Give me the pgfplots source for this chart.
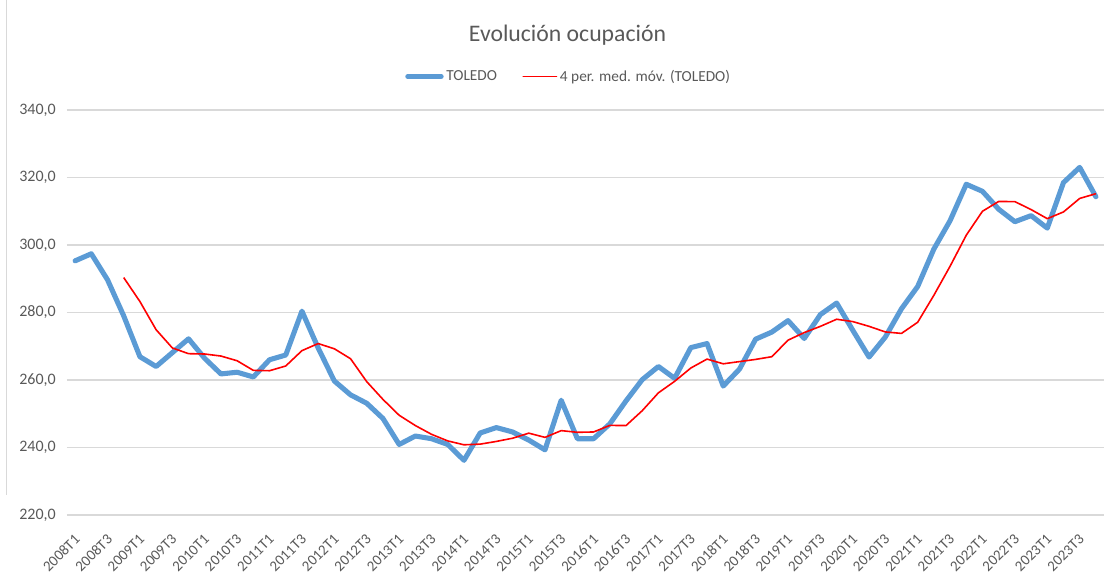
\documentclass[border=0pt]{standalone}
\usepackage{pgfplots}
\pgfplotsset{compat=1.18}
\usepackage{pgfplotstable}
\usepackage{fontspec}
\setmainfont{Carlito}
\definecolor{txtgray}{HTML}{595959}
\definecolor{gridgray}{HTML}{D9D9D9}
\definecolor{toledoblue}{HTML}{5B9BD5}
\pgfplotstableread{
i v ma
0 295.3 nan
1 297.4 nan
2 289.7 nan
3 279.0 290.35
4 266.9 283.25
5 264.0 274.9
6 268.1 269.5
7 272.2 267.8
8 266.4 267.7
9 261.8 267.1
10 262.3 265.7
11 260.9 262.85
12 266.0 262.75
13 267.4 264.15
14 280.4 268.7
15 269.5 270.8
16 259.7 269.25
17 255.6 266.3
18 253.1 259.5
19 248.6 254.25
20 240.9 249.55
21 243.4 246.5
22 242.6 243.9
23 240.9 241.95
24 236.2 240.8
25 244.3 241.0
26 245.9 241.8
27 244.6 242.75
28 242.2 244.25
29 239.3 243.0
30 254.0 245.0
31 242.6 244.5
32 242.6 244.6
33 247.0 246.55
34 253.8 246.5
35 260.1 250.9
36 264.0 256.2
37 260.5 259.6
38 269.6 263.55
39 270.8 266.2
40 258.2 264.8
41 263.2 265.45
42 272.1 266.1
43 274.2 266.9
44 277.6 271.8
45 272.3 274.05
46 279.4 275.9
47 282.8 278.0
48 274.7 277.3
49 266.8 275.9
50 272.7 274.25
51 281.1 273.8
52 287.7 277.1
53 298.8 285.1
54 307.2 293.7
55 318.0 302.9
56 315.9 310.0
57 310.6 312.9
58 306.9 312.85
59 308.7 310.5
60 305.0 307.8
61 318.5 309.8
62 323.0 313.8
63 314.3 315.2
}\datatable
\begin{document}
\begin{tikzpicture}
\useasboundingbox (-50.25pt,-47.25pt) rectangle (788.25pt,386.25pt);
\draw[gridgray, line width=0.75pt] (-45pt,15pt) -- (-45pt,386.25pt);
\begin{axis}[
  at={(0,0)}, anchor=south west,
  scale only axis, width=777.75pt, height=303.75pt,
  xmin=-0.5, xmax=63.5, ymin=220, ymax=340,
  ytick={220,240,...,340},
  xtick={0,2,...,62},
  xticklabels={2008T1,2008T3,2009T1,2009T3,2010T1,2010T3,2011T1,2011T3,2012T1,2012T3,2013T1,2013T3,2014T1,2014T3,2015T1,2015T3,2016T1,2016T3,2017T1,2017T3,2018T1,2018T3,2019T1,2019T3,2020T1,2020T3,2021T1,2021T3,2022T1,2022T3,2023T1,2023T3},
  axis line style={draw=none},
  major tick length=0pt,
  ymajorgrids, grid style={gridgray, line width=1pt},
  yticklabel style={font=\fontsize{12}{14}\selectfont, text=txtgray, anchor=east, inner sep=0pt, xshift=-8.25pt},
  xticklabel style={font=\fontsize{11.2}{13}\selectfont, text=txtgray, rotate=45, anchor=north east, inner sep=0pt, xshift=-10.4pt, yshift=-8.7pt},
  /pgf/number format/.cd, fixed, fixed zerofill, precision=1, use comma, assume math mode=true,
  /pgfplots/.cd,
  legend columns=2,
  legend style={draw=none, fill=none, at={(axis description cs:0.4841,1.0827)}, anchor=center,
    font=\fontsize{11.5}{13}\selectfont, text=txtgray,
    /tikz/every even column/.append style={column sep=17pt}},
  legend cell align=left,
  legend image code/.code={\draw[#1, line cap=round] (0pt,0pt) -- (25pt,0pt);},
]
\addplot[toledoblue, line width=3.8pt, line join=round, line cap=round]
  table[x=i, y=v] {\datatable};
\addlegendentry{TOLEDO}
\addplot[red, line width=1.2pt, line join=round]
  table[x=i, y=ma] {\datatable};
\addlegendentry{4 per. med. móv. (TOLEDO)}
\end{axis}
\node[font=\fontsize{17.8}{21}\selectfont, text=txtgray, anchor=base, inner sep=0pt] at (375.4pt,354.75pt) {Evolución ocupación};
\end{tikzpicture}
\end{document}
